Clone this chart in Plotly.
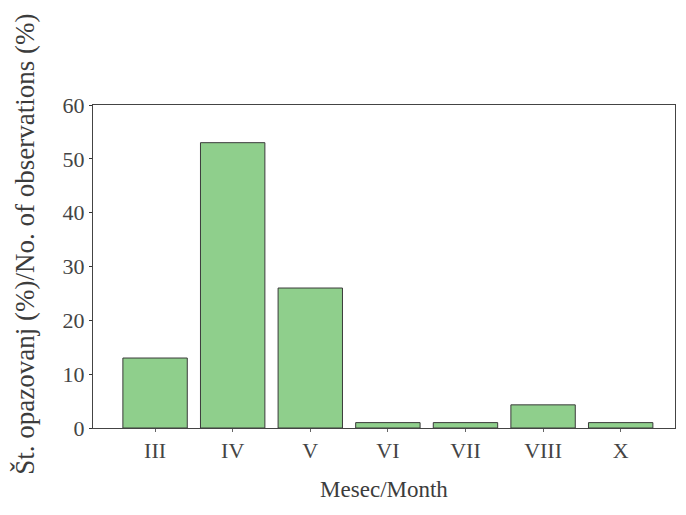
import plotly.graph_objects as go

months = ["III", "IV", "V", "VI", "VII", "VIII", "X"]
share = [13, 53, 26, 1, 1, 4.3, 1]
y_ticks = [0, 10, 20, 30, 40, 50, 60]

fig = go.Figure()
fig.add_trace(go.Bar(
    x=months, y=share, width=0.83,
    marker=dict(color="#8fcf8c", line=dict(color="#3a3a3a", width=1)),
))

serif = "Liberation Serif, Times New Roman, serif"
fig.update_layout(
    width=686, height=515,
    margin=dict(l=85, r=19, t=97, b=95),
    paper_bgcolor="white", plot_bgcolor="white",
    showlegend=False,
    font=dict(family=serif, color="#3c3c3c"),
    xaxis=dict(
        type="category", range=[-0.8, 6.7],
        showline=True, linecolor="#444", linewidth=1, mirror=True,
        ticks="outside", ticklen=3, tickcolor="#666",
        tickfont=dict(size=22, family=serif, color="#444"),
        title=dict(text="Mesec/Month", font=dict(size=23, family=serif, color="#3c3c3c"), standoff=18),
    ),
    yaxis=dict(
        range=[0, 60], tickvals=y_ticks,
        showline=True, linecolor="#444", linewidth=1, mirror=True,
        ticks="outside", ticklen=3, tickcolor="#333",
        showgrid=False, zeroline=False,
        tickfont=dict(size=22, family=serif, color="#444"),
    ),
    annotations=[dict(
        text="Št. opazovanj (%)/No. of observations (%)",
        textangle=-90, xref="paper", yref="paper",
        x=-0.117, y=1.29, xanchor="center", yanchor="top",
        showarrow=False, font=dict(size=27, family=serif, color="#3c3c3c"),
    )],
)

fig.write_html("out.html")
